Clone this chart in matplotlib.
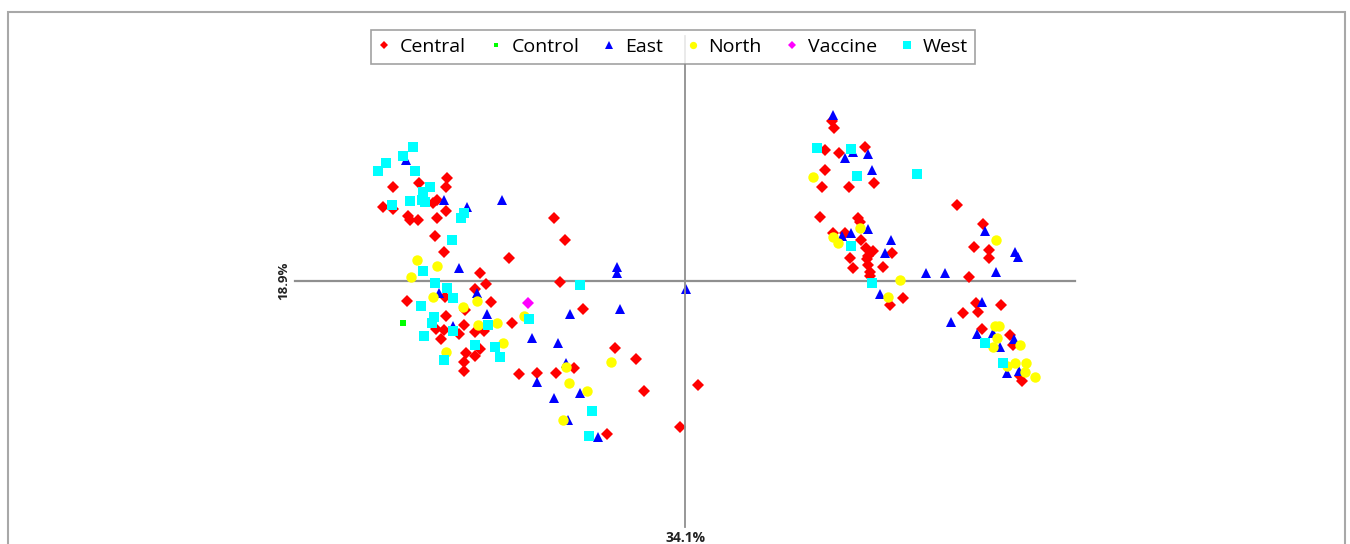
import matplotlib
matplotlib.use("Agg")
import matplotlib.pyplot as plt
from matplotlib.patches import Rectangle

# PCA scores (arbitrary units): PC1 (34.1%) and PC2 (18.9%)
central_x = [-238, -239, -266, -292, -248, -252, -302, -292, -239, -277, -275, -267, -248, -250, -241,
             -176, -205, -199, -210, -278, -240, -194, -220, -239, -173, -221, -249, -241, -226, -210,
             -201, -244, -205, -210, -219, -221, -221, -166, -148, -129, -131, -120, -125, -102, -70,
             -49, -111, -41, -5, -78, 13,
             147, 149, 140, 154, 180, 140, 137, 164, 189, 135, 173, 175, 148, 160, 176, 181, 183, 188,
             165, 207, 182, 168, 183, 185, 198, 185, 218, 205, 272, 298, 289, 304, 304, 284, 291, 316,
             278, 293, 297, 325, 328, 335, 337]
central_y = [103, 94, 98, 94, 81, 78, 74, 72, 70, 65, 61, 61, 63, 45, 29,
             23, 8, -3, -8, -20, -16, -21, -29, -35, -42, -44, -48, -49, -53, -51,
             -50, -58, -68, -75, -72, -81, -90, -93, -92, -92, 63, 41, -1, -28, -67,
             -78, -87, -110, -146, -153, -104,
             160, 153, 131, 128, 134, 111, 94, 94, 98, 64, 63, 59, 48, 48, 41, 33, 25, 30,
             23, 28, 22, 13, 16, 9, 14, 5, -17, -24, 76, 57, 34, 31, 23, 4, -22, -24,
             -32, -31, -48, -54, -64, -95, -100]

control_x = [-282]
control_y = [-42]

east_x = [-279, -241, -218, -183, -226, -246, -208, -198, -232, -153, -148, -68, -68, 1, -115, -65,
          -127, -119, -131, -105, -117, -87,
          148, 160, 168, 183, 187, 157, 166, 183, 206, 200, 241, 195, 300, 330, 333, 260, 311, 297,
          266, 292, 308, 329, 315, 322, 334]
east_y = [121, 81, 74, 81, 13, -12, -12, -33, -45, -57, -101, 14, 8, -8, -33, -28,
          -62, -82, -117, -112, -139, -156,
          166, 123, 129, 127, 111, 45, 48, 52, 41, 28, 8, -13, 50, 29, 24, 8, 9, -21,
          -41, -53, -52, -58, -66, -92, -90]

north_x = [-268, -248, -274, -252, -208, -222, -207, -188, -182, -161, -239, -119, -74, -116, -98, -122,
           128, 148, 153, 175, 215, 203, 311, 310, 314, 312, 308, 335, 330, 341, 340, 350, 322]
north_y = [21, 15, 4, -16, -20, -26, -44, -42, -62, -35, -71, -86, -81, -102, -110, -139,
           104, 44, 38, 53, 1, -16, 41, -45, -45, -57, -66, -64, -82, -82, -91, -96, -85]

vaccine_x = [-157]
vaccine_y = [-22]

west_x = [-272, -282, -299, -307, -270, -255, -262, -275, -263, -260, -293, -224, -221, -233, -262,
          -250, -238, -232, -264, -251, -253, -232, -197, -261, -210, -190, -185, -241, -156, -105,
          -93, -96,
          132, 166, 172, 232, 166, 187, 300, 318]
west_y = [134, 125, 118, 110, 110, 94, 89, 80, 81, 79, 76, 63, 68, 41, 10,
          -2, -7, -17, -25, -36, -42, -50, -44, -55, -64, -66, -76, -79, -38, -4,
          -130, -155,
          133, 132, 105, 107, 35, -2, -62, -82]

groups = ["Central", "Control", "East", "North", "Vaccine", "West"]
pc1_label = "34.1%"
pc2_label = "18.9%"

series = [
    (central_x, central_y, "D", "#ff0000", 5.8),
    (control_x, control_y, "s", "#00ff00", 5.0),
    (east_x, east_y, "^", "#0000ff", 7.4),
    (north_x, north_y, "o", "#ffff00", 7.5),
    (vaccine_x, vaccine_y, "D", "#ff00ff", 5.8),
    (west_x, west_y, "s", "#00ffff", 7.3),
]

plt.rcParams['font.family'] = ['Open Sans', 'DejaVu Sans']

fig = plt.figure(figsize=(13.5, 5.44), dpi=100)
ax = fig.add_axes([0, 0, 1, 1])
ax.set_xlim(-685, 665)
ax.set_ylim(-263, 281)
ax.axis('off')

# border frame
fig.patches.append(Rectangle((8 / 1350, -0.05), 1337 / 1350, 1.05 - 12 / 544,
                             transform=fig.transFigure, fill=False,
                             edgecolor="#a8a8a8", lw=1.5))

# axes cross lines
ax.plot([-390, 390], [0, 0], color="#8f8f8f", lw=1.6, zorder=1)
ax.plot([0, 0], [245, -246], color="#8f8f8f", lw=1.3, zorder=6)

handles = []
for (xs, ys, m, c, ms), name in zip(series, groups):
    h, = ax.plot(xs, ys, linestyle="none", marker=m, color=c, markersize=ms,
                 markeredgewidth=0, label=name, zorder=3)
    handles.append(h)

ax.text(-401, 0, pc2_label, rotation=90, ha="center", va="center",
        fontsize=9.5, fontweight="bold", color="#222222")
ax.text(0, -257, pc1_label, ha="center", va="center",
        fontsize=10, fontweight="bold", color="#222222")

leg = fig.legend(handles=handles, labels=groups, ncol=6, loc="center",
                 bbox_to_anchor=(673 / 1350, 1 - 47 / 544), frameon=True,
                 fancybox=False, edgecolor="#8a8a8a", fontsize=14,
                 markerscale=0.7, handlelength=0.6, handletextpad=0.5,
                 columnspacing=1.25, borderpad=0.4)
leg.get_frame().set_linewidth(1.2)

fig.savefig("out.png", dpi=100)
